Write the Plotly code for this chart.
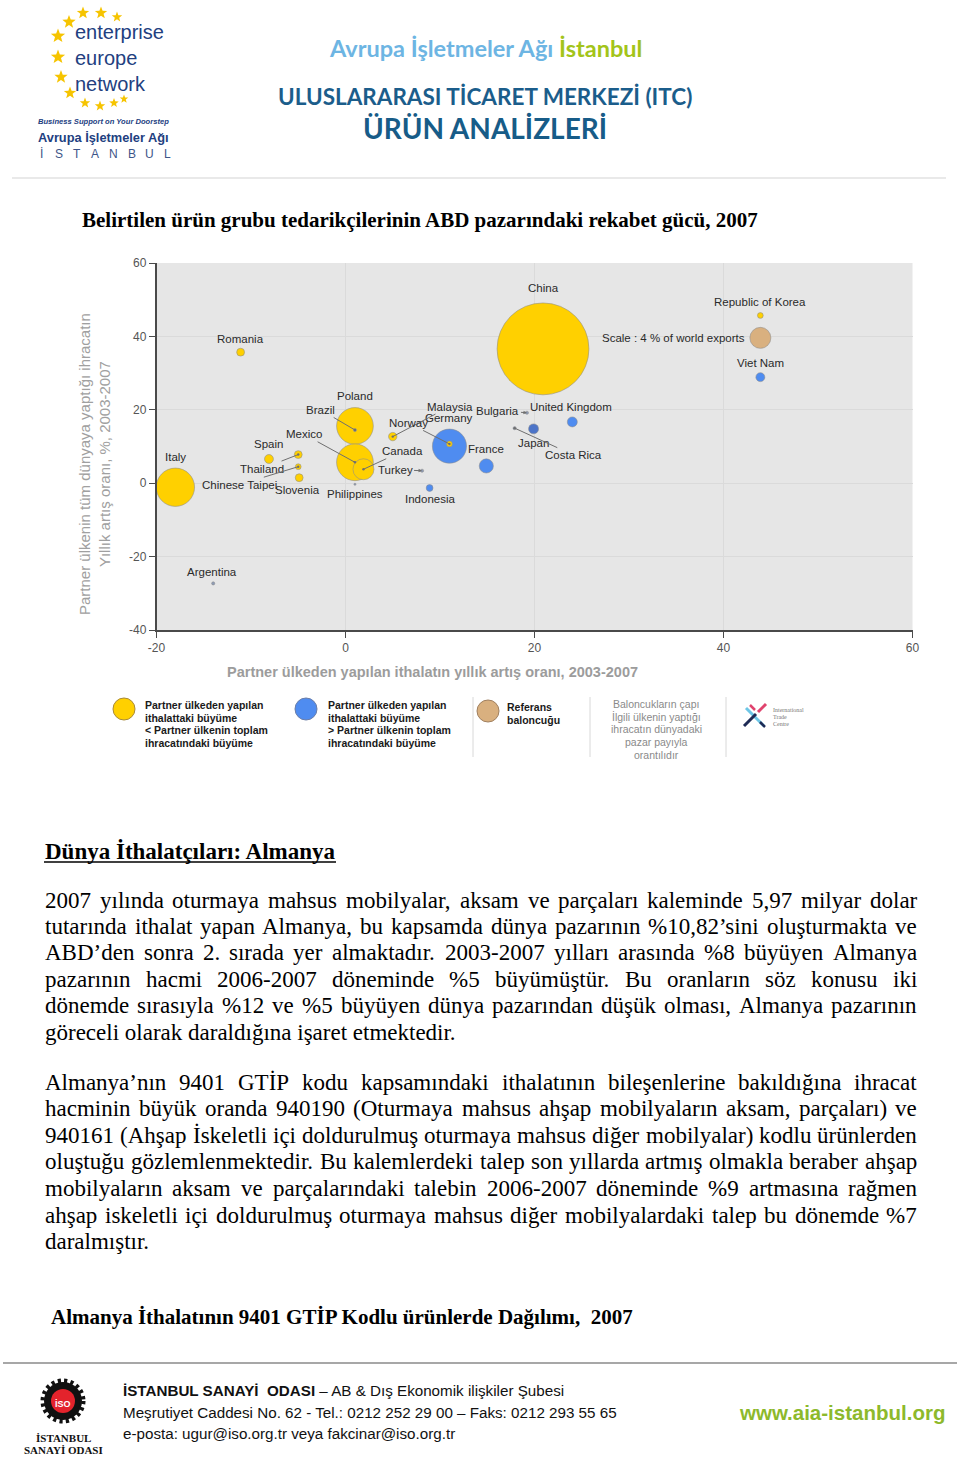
import math
import plotly.graph_objects as go

# page is 960x1459; the body margin is removed by a small post script.
PAGE_W, PAGE_H = 960, 1459
OFF = 0
W, H = PAGE_W - 2 * OFF, PAGE_H - 2 * OFF

# ---------------- chart data ----------------
countries = ["China", "Italy", "Poland", "Mexico", "Germany", "Canada", "France",
             "Republic of Korea", "Viet Nam", "United Kingdom", "Japan", "Romania",
             "Spain", "Thailand", "Chinese Taipei", "Slovenia", "Malaysia", "Norway",
             "Indonesia", "Brazil", "Philippines", "Turkey", "Argentina", "Bulgaria",
             "Costa Rica"]
import_growth = [20.9, -18.0, 1.0, 1.0, 11.0, 1.9, 14.9, 43.9, 43.9, 24.0, 19.9, -11.1,
                 -8.1, -5.0, -5.0, -4.9, 5.0, 11.0, 8.9, 1.0, 1.0, 8.1, -14.0, 19.2, 17.9]
export_growth = [36.6, -1.1, 15.6, 5.7, 10.1, 3.8, 4.7, 45.7, 28.9, 16.7, 14.8, 35.7,
                 6.6, 7.8, 4.5, 1.5, 12.7, 10.7, -1.3, 14.5, -0.3, 3.4, -27.3, 19.2, 15.0]
world_share = [17.5, 7.3, 7.0, 7.0, 6.5, 4.0, 2.7, 1.1, 1.7, 1.9, 1.9, 1.5,
               1.7, 1.5, 1.1, 1.5, 1.6, 1.1, 1.3, 0.6, 0.4, 0.6, 0.6, 0.6, 0.6]
group = ["lower", "lower", "lower", "lower", "higher", "lower", "higher",
         "lower", "higher", "higher", "higher2", "lower",
         "lower", "lower", "lower", "lower", "lower", "lower",
         "higher", "minor", "minor", "minor", "minor", "minor", "minor"]

reference_label = "Scale : 4 % of world exports"
reference_share = 4.0
reference_x = [43.9]
reference_y = [39.6]

x_ticks = [-20, 0, 20, 40, 60]
x_tick_labels = ["-20", "0", "20", "40", "60"]
y_ticks = [-40, -20, 0, 20, 40, 60]
y_tick_labels = ["-40", "-20", "0", "20", "40", "60"]

# ---------------- styles ----------------
SIZE_PER_SHARE = 5.25
group_colors = {"lower": "#FFD000", "higher": "#4F8CF0", "higher2": "#4C74C8",
                "minor": "#8E9CB6"}
REF_COLOR = "#D9B07F"

SANS = "Liberation Sans, Arial, sans-serif"
SERIF = "Liberation Serif, Times New Roman, serif"
HEAD = "Lato, Open Sans, sans-serif"

# label placement (pixel offsets from the bubble): dx, dy, leader line kind
label_style = {
    "China": (0, -61, None), "Italy": (0, -30, None), "Poland": (0, -30, None),
    "Mexico": (-51, -28, "line"), "Germany": (0, -28, None), "Canada": (39, -18, "line"),
    "France": (0, -17, None), "Republic of Korea": (0, -13, None),
    "Viet Nam": (0, -14, None), "United Kingdom": (-1, -15, None),
    "Japan": (0, 14, None), "Romania": (0, -13, None), "Spain": (0, -15, None),
    "Thailand": (-36, 14, "line"), "Chinese Taipei": (-59, 18, "line"),
    "Slovenia": (-2, 12, None), "Malaysia": (57, -30, "line"),
    "Norway": (-41, -21, "line"), "Indonesia": (0, 11, None),
    "Brazil": (-34, -20, "line"), "Philippines": (0, 10, None),
    "Turkey": (-27, -1, "arrow"), "Argentina": (-1, -11, None),
    "Bulgaria": (-29, -2, "arrow"), "Costa Rica": (59, 27, "line"),
}

fig = go.Figure()

order = sorted(range(len(countries)), key=lambda i: -world_share[i])
fig.add_trace(go.Scatter(
    x=[import_growth[i] for i in order],
    y=[export_growth[i] for i in order],
    mode="markers",
    text=[countries[i] for i in order],
    marker=dict(size=[world_share[i] * SIZE_PER_SHARE for i in order],
                sizemode="diameter",
                color=[group_colors[group[i]] for i in order],
                opacity=1,
                line=dict(color="rgba(140,140,140,0.55)", width=1)),
    hoverinfo="text",
))
fig.add_trace(go.Scatter(
    x=reference_x, y=reference_y, mode="markers",
    marker=dict(size=reference_share * SIZE_PER_SHARE, sizemode="diameter",
                color=REF_COLOR, line=dict(color="rgba(140,140,140,0.55)", width=1)),
    hoverinfo="skip"))

ann = []
shapes = []

LABEL_FONT = dict(family=SANS, size=11.5, color="#2a2a2a")
for i, c in enumerate(countries):
    dx, dy, kind = label_style[c]
    if kind is None:
        ann.append(dict(x=import_growth[i], y=export_growth[i], xref="x", yref="y",
                        text=c, showarrow=False, xshift=dx, yshift=-dy,
                        font=LABEL_FONT))
    else:
        ann.append(dict(x=import_growth[i], y=export_growth[i], xref="x", yref="y",
                        text=c, showarrow=True, ax=dx, ay=dy,
                        arrowcolor="#6f6f6f", arrowwidth=1,
                        arrowhead=6 if kind == "line" else 2,
                        arrowsize=0.6 if kind == "line" else 0.7,
                        standoff=0, font=LABEL_FONT))
ann.append(dict(x=reference_x[0], y=reference_y[0], xref="x", yref="y",
                text=reference_label, showarrow=False, xanchor="right",
                xshift=-13, font=LABEL_FONT))


def P(x, y):
    return (x - OFF) / W, 1 - (y - OFF) / H


def txt(x, y, s, size, color="#000", family=SANS, anchor="left", vanchor="middle",
        angle=0, align=None):
    px, py = P(x, y)
    d = dict(x=px, y=py, xref="paper", yref="paper", text=s, showarrow=False,
             xanchor=anchor, yanchor=vanchor, textangle=angle,
             font=dict(size=size, color=color, family=family))
    if align:
        d["align"] = align
    ann.append(d)


def line(x0, y0, x1, y1, color, width=1, dash=None):
    a, b = P(x0, y0)
    c, d = P(x1, y1)
    ln = dict(color=color, width=width)
    if dash:
        ln["dash"] = dash
    shapes.append(dict(type="line", xref="paper", yref="paper", x0=a, y0=b, x1=c,
                       y1=d, line=ln))


def circle(cx, cy, r, fill, lc=None, lw=0, dash=None):
    a, b = P(cx - r, cy + r)
    c, d = P(cx + r, cy - r)
    ln = dict(color=lc or fill, width=lw)
    if dash:
        ln["dash"] = dash
    shapes.append(dict(type="circle", xref="paper", yref="paper", x0=a, y0=b, x1=c,
                       y1=d, fillcolor=fill, line=ln))


def star(cx, cy, r, color):
    pts = []
    for k in range(10):
        ang = math.radians(-90 + k * 36)
        rr = r if k % 2 == 0 else r * 0.42
        pts.append(P(cx + rr * math.cos(ang), cy + rr * math.sin(ang)))
    path = "M " + " L ".join(f"{a:.5f},{b:.5f}" for a, b in pts) + " Z"
    shapes.append(dict(type="path", xref="paper", yref="paper", path=path,
                       fillcolor=color, line=dict(width=0)))


# ---------------- header ----------------
NAVY = "#22407F"
stars = [(83, 13, 6.5), (101, 13, 6.5), (117, 17, 5.5), (69, 22, 7), (58, 36, 7.5),
         (58, 57, 7.5), (61, 77, 7), (70, 93, 6.5), (85, 103, 5.5), (100, 106, 5.5),
         (114, 103, 5), (124, 99, 4.5)]
for sx, sy, sr in stars:
    star(sx, sy, sr, "#F6C400")
txt(73, 58, "enterprise<br>europe<br>network", 20, NAVY, SANS, align="left")
txt(36, 122, "<b><i>Business Support on Your Doorstep</i></b>", 7.6, NAVY, SANS)
txt(36, 137, "<b>Avrupa İşletmeler Ağı</b>", 12.8, NAVY, SANS)
for k, ch in enumerate("İSTANBUL"):
    txt(41 + k * 18.1, 154, ch, 12, "#3d5588", SANS, "center")

txt(485, 48, "<b><span style='color:#6DB5E3'>Avrupa İşletmeler Ağı</span> "
    "<span style='color:#A3C41A'>İstanbul</span></b>", 23.5, "#6DB5E3", HEAD, "center")
txt(485, 97, "<b>ULUSLARARASI TİCARET MERKEZİ (ITC)</b>", 22.5, "#1B5D8B", HEAD, "center")
txt(485, 128, "<b>ÜRÜN ANALİZLERİ</b>", 28, "#175C88", HEAD, "center")
line(12, 178, 946, 178, "#d4d4d4", 1.2)

txt(80, 220, "<b>Belirtilen ürün grubu tedarikçilerinin ABD pazarındaki rekabet gücü, 2007</b>",
    21, "#000", SERIF)

# axis titles
txt(432, 672, "<b>Partner ülkeden yapılan ithalatın yıllık artış oranı, 2003-2007</b>",
    14.5, "#9c9c9c", SANS, "center")
txt(94, 464, "Partner ülkenin tüm dünyaya yaptığı ihracatın<br>Yıllık artış oranı, %, 2003-2007",
    15, "#a0a0a0", SANS, "center", angle=-90)

# ---------------- legend strip ----------------
circle(124, 709, 11, "#FFD000", "#A88A3A", 1)
circle(306, 709, 11, "#4F8CF0", "#6c7ea8", 1)
circle(488, 711, 11, "#D9B07F", "#a08060", 1)
leg1 = ["Partner ülkeden yapılan", "ithalattaki büyüme", "< Partner ülkenin toplam",
        "ihracatındaki büyüme"]
leg2 = ["Partner ülkeden yapılan", "ithalattaki büyüme", "> Partner ülkenin toplam",
        "ihracatındaki büyüme"]
for k, s in enumerate(leg1):
    txt(143, 705 + k * 12.7, "<b>" + s.replace("<", "&lt;") + "</b>", 10.5, "#1a1a1a")
for k, s in enumerate(leg2):
    txt(326, 705 + k * 12.7, "<b>" + s.replace(">", "&gt;") + "</b>", 10.5, "#1a1a1a")
txt(505, 707, "<b>Referans</b>", 10.5, "#1a1a1a")
txt(505, 720, "<b>baloncuğu</b>", 10.5, "#1a1a1a")
leg4 = ["Baloncukların çapı", "İlgili ülkenin yaptığı", "ihracatın dünyadaki",
        "pazar payıyla", "orantılıdır"]
for k, s in enumerate(leg4):
    txt(656, 704 + k * 12.7, s, 10.5, "#8a8a8a", SANS, "center")
for xv in (473, 590, 726):
    line(xv, 697, xv, 757, "#d8d8d8", 1)
# ITC logo
line(746, 708, 764, 726, "#6EC6E6", 3)
line(744, 726, 756, 714, "#1E2A55", 3)
line(758, 712, 766, 704, "#E0436E", 3)
line(750, 705, 755, 710, "#E0436E", 2.5)
line(760, 722, 765, 727, "#1E2A55", 2.5)
txt(771, 710, "International", 6, "#777", SERIF)
txt(771, 717, "Trade", 6, "#777", SERIF)
txt(771, 724, "Centre", 6, "#777", SERIF)

# ---------------- body text ----------------
TNR = {' ': 250, 'a': 444, 'b': 500, 'c': 444, 'd': 500, 'e': 444, 'f': 333, 'g': 500,
       'h': 500, 'i': 278, 'j': 278, 'k': 500, 'l': 278, 'm': 778, 'n': 500, 'o': 500,
       'p': 500, 'q': 500, 'r': 333, 's': 389, 't': 278, 'u': 500, 'v': 500, 'w': 722,
       'x': 500, 'y': 500, 'z': 444, 'ı': 278, 'ş': 389, 'ç': 444, 'ğ': 500, 'ü': 500,
       'ö': 500, 'A': 722, 'B': 667, 'C': 667, 'D': 722, 'E': 611, 'F': 556, 'G': 722,
       'H': 722, 'I': 333, 'İ': 333, 'J': 389, 'K': 722, 'L': 611, 'M': 889, 'N': 722,
       'O': 722, 'P': 556, 'R': 667, 'S': 556, 'Ş': 556, 'T': 611, 'U': 722, 'Ü': 722,
       'V': 722, 'Y': 722, 'Z': 611, '%': 833, ',': 250, '.': 250, '’': 333,
       '(': 333, ')': 333, '-': 333, ':': 278}
BODY = 23
LEFT, RIGHT = 44, 916


def tw(s):
    return sum(TNR.get(ch, 500) for ch in s) / 1000 * BODY


def paragraph(lines, y0, dy):
    for k, ln_ in enumerate(lines):
        y = y0 + k * dy
        words = ln_.split()
        if k == len(lines) - 1:
            txt(LEFT - 1, y, ln_, BODY, "#000", SERIF)
            continue
        total = sum(tw(w) for w in words)
        gap = (RIGHT - LEFT - total) / (len(words) - 1)
        x = LEFT
        for w in words:
            txt(x - 1, y, w, BODY, "#000", SERIF)
            x += tw(w) + gap


txt(LEFT - 1, 851, "<b>Dünya İthalatçıları: Almanya</b>", BODY, "#000", SERIF)
line(44, 862, 336, 862, "#000", 1.5)

para1 = [
    "2007 yılında oturmaya mahsus mobilyalar, aksam ve parçaları kaleminde 5,97 milyar dolar",
    "tutarında ithalat yapan Almanya, bu kapsamda dünya pazarının %10,82’sini oluşturmakta ve",
    "ABD’den sonra 2. sırada yer almaktadır. 2003-2007 yılları arasında %8 büyüyen Almanya",
    "pazarının hacmi 2006-2007 döneminde %5 büyümüştür.  Bu oranların söz konusu iki",
    "dönemde sırasıyla %12 ve %5 büyüyen dünya pazarından düşük olması, Almanya pazarının",
    "göreceli olarak daraldığına işaret etmektedir.",
]
para2 = [
    "Almanya’nın 9401 GTİP kodu kapsamındaki ithalatının bileşenlerine bakıldığına ihracat",
    "hacminin büyük oranda 940190 (Oturmaya mahsus ahşap mobilyaların aksam, parçaları) ve",
    "940161 (Ahşap İskeletli içi doldurulmuş oturmaya mahsus diğer mobilyalar) kodlu ürünlerden",
    "oluştuğu gözlemlenmektedir. Bu kalemlerdeki talep son yıllarda artmış olmakla beraber ahşap",
    "mobilyaların aksam ve parçalarındaki talebin 2006-2007 döneminde %9 artmasına rağmen",
    "ahşap iskeletli içi doldurulmuş oturmaya mahsus diğer mobilyalardaki talep bu dönemde %7",
    "daralmıştır.",
]
paragraph(para1, 900, 26.4)
paragraph(para2, 1082, 26.6)

txt(49, 1317, "<b>Almanya İthalatının 9401 GTİP Kodlu ürünlerde Dağılımı,  2007</b>", 21,
    "#000", SERIF)

# ---------------- footer ----------------
line(3, 1363, 957, 1363, "#8a8a8a", 1.5)
circle(63, 1401, 19, "#111", "#111", 7, "3px,3px")
circle(63, 1401, 17, "#111")
circle(63, 1401, 12, "#E3232C")
txt(63, 1404, "<b>İSO</b>", 9, "#fff", SANS, "center")
txt(63, 1438, "<b>İSTANBUL</b>", 11, "#111", SERIF, "center")
txt(63, 1450, "<b>SANAYİ ODASI</b>", 11, "#111", SERIF, "center")
txt(121, 1390, "<b>İSTANBUL SANAYİ  ODASI</b> – AB &amp; Dış Ekonomik ilişkiler Şubesi",
    15.2, "#111", SANS)
txt(121, 1412, "Meşrutiyet Caddesi No. 62 - Tel.: 0212 252 29 00 – Faks: 0212 293 55 65",
    15.2, "#111", SANS)
txt(121, 1433, "e-posta: ugur@iso.org.tr veya fakcinar@iso.org.tr", 15.2, "#111", SANS)
txt(947, 1412, "<b>www.aia-istanbul.org</b>", 20.5, "#8DB92B", SANS, "right")

# ---------------- layout ----------------
fig.update_layout(
    width=W, height=H, margin=dict(l=0, r=0, t=0, b=0, pad=0, autoexpand=False),
    paper_bgcolor="white", plot_bgcolor="#e6e6e6", showlegend=False,
    annotations=ann, shapes=shapes,
    xaxis=dict(domain=[(156.5 - OFF) / W, (912.5 - OFF) / W], range=[-20, 60],
               tickvals=x_ticks, ticktext=x_tick_labels, automargin=False,
               showgrid=True, gridcolor="#dadada", gridwidth=1, zeroline=False,
               showline=True, linecolor="#4a4a4a", linewidth=1.5, ticks="outside",
               ticklen=6, tickcolor="#4a4a4a",
               tickfont=dict(family=SANS, size=12, color="#555"), fixedrange=True),
    yaxis=dict(domain=[1 - (630 - OFF) / H, 1 - (263 - OFF) / H], range=[-40, 60],
               tickvals=y_ticks, ticktext=y_tick_labels, automargin=False,
               showgrid=True, gridcolor="#dadada", gridwidth=1, zeroline=False,
               showline=True, linecolor="#4a4a4a", linewidth=1.5, ticks="outside",
               ticklen=6, tickcolor="#4a4a4a",
               tickfont=dict(family=SANS, size=12, color="#555"), fixedrange=True),
)

fig.write_html("out.html", config={"displayModeBar": False},
               post_script="document.body.style.margin='0px';"
                           "document.documentElement.style.overflow='hidden';")
